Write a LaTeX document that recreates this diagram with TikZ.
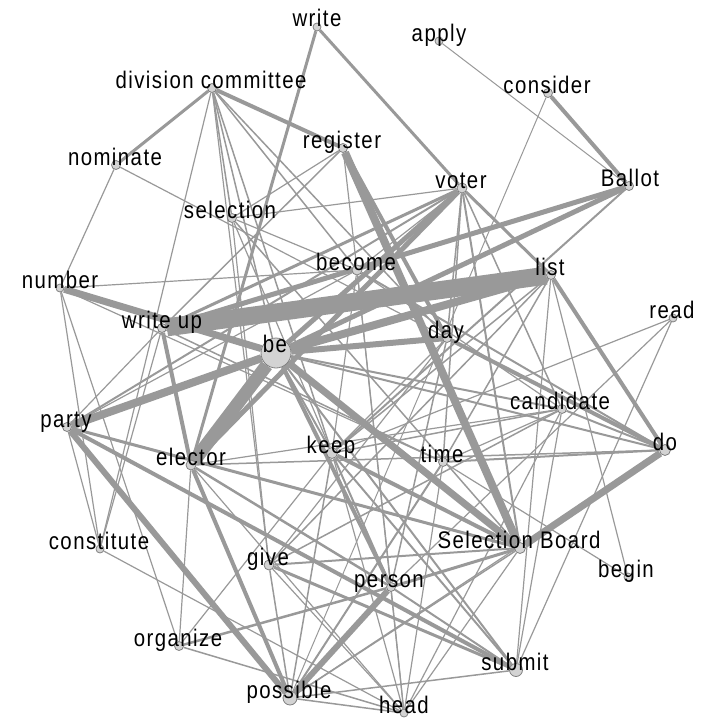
\documentclass[tikz,border=0pt]{standalone}
\usepackage{fontspec}
\setmainfont{Liberation Sans}[FakeStretch=0.85,LetterSpace=6]
\usetikzlibrary{backgrounds}
\definecolor{edgegray}{RGB}{153,153,153}
\definecolor{nodefill}{RGB}{211,211,211}
\definecolor{nodeline}{RGB}{128,128,128}
\tikzset{
  vtx/.style={circle, fill=nodefill, draw=nodeline, line width=0.8pt, inner sep=0pt, minimum size=#1},
  vtx/.default=9pt,
  lbl/.style={anchor=base, inner sep=0pt, font=\fontsize{24}{28}\selectfont, text=black},
  edge/.style={draw=edgegray, line cap=butt}
}
\begin{document}
\begin{tikzpicture}[x=1pt,y=-1pt]
\useasboundingbox (0,0) rectangle (704,720);
% vertices
\node[vtx=8pt] (write) at (317,27) {};
\node[vtx=8pt] (apply) at (439,41) {};
\node[vtx] (dc) at (212,88) {};
\node[vtx] (consider) at (548,93) {};
\node[vtx] (nominate) at (116,165) {};
\node[vtx] (register) at (343,148) {};
\node[vtx=10pt] (voter) at (462,188) {};
\node[vtx] (Ballot) at (629,186) {};
\node[vtx] (selection) at (232,218) {};
\node[vtx=10pt] (become) at (357,270) {};
\node[vtx] (list) at (551,275) {};
\node[vtx=8pt] (number) at (60,288) {};
\node[vtx] (writeup) at (162,328) {};
\node[vtx=8pt] (read) at (673,318) {};
\node[vtx=30pt] (be) at (276,353) {};
\node[vtx] (day) at (447,338) {};
\node[vtx] (candidate) at (562,409) {};
\node[vtx] (party) at (67,427) {};
\node[vtx=11pt] (do) at (665,450) {};
\node[vtx=10pt] (elector) at (191,465) {};
\node[vtx=11pt] (keep) at (332,453) {};
\node[vtx] (time) at (443,462) {};
\node[vtx=8pt] (constitute) at (100,549) {};
\node[vtx=11pt] (SB) at (520,548) {};
\node[vtx=10pt] (give) at (269,565) {};
\node[vtx=8pt] (begin) at (628,577) {};
\node[vtx] (person) at (391,587) {};
\node[vtx] (organize) at (179,646) {};
\node[vtx=13pt] (submit) at (516,670) {};
\node[vtx=14pt] (possible) at (290,698) {};
\node[vtx=8pt] (head) at (404,713) {};
% edges
\begin{scope}[on background layer]
\foreach \a/\b/\w in {
 writeup/list/18, be/elector/13, be/list/8, party/be/8, number/be/7, be/SB/7,
 register/SB/8, SB/do/7, be/day/6, party/possible/6, possible/person/6,
 be/voter/5, be/Ballot/5, writeup/Ballot/5, voter/elector/5,
 consider/Ballot/4, dc/register/4, party/submit/4, be/person/4,
 writeup/elector/4, elector/possible/4, day/do/4, list/do/4, register/day/4,
 dc/nominate/3, write/voter/3, write/elector/3, voter/writeup/3, voter/list/3,
 party/SB/3, elector/person/2.5, keep/SB/4, give/submit/3, person/SB/3,
 organize/person/2.5, voter/party/2,
 apply/Ballot/1, consider/possible/1,
 dc/constitute/1.2, dc/day/1.5, dc/selection/1.5, dc/be/1.5, dc/keep/1.5,
 dc/give/1.2, dc/become/1.5,
 nominate/number/1.2, nominate/day/1.2,
 register/selection/1.2, register/writeup/1.5, register/become/1.2,
 selection/give/1.2, selection/voter/1.2, selection/SB/1.5, selection/keep/1.2,
 selection/become/1.2,
 number/become/1.2, number/constitute/1.2, number/organize/1.2, number/time/1.2,
 party/constitute/1.2, party/writeup/1.2, party/become/1.2,
 constitute/writeup/1.2, constitute/head/1.2,
 organize/elector/1.2, organize/keep/1.2, organize/head/1.5,
 elector/do/1.5, elector/head/1.2,
 give/SB/2, give/candidate/1.5, give/possible/1.5, give/head/1.2, give/list/1.5,
 keep/submit/2, keep/person/2, keep/head/1.2, keep/possible/1.5, keep/candidate/1.5,
 Ballot/keep/2,
 read/keep/1.2, read/submit/1.2, read/person/1.2,
 time/candidate/1.2, time/do/2, time/possible/2, time/head/1.2, time/begin/1.2,
 time/voter/1.5, time/writeup/1.5,
 candidate/submit/1.2, candidate/do/2, candidate/be/2, candidate/head/1.2,
 candidate/voter/1.5, candidate/elector/1.2,
 person/head/1.2, person/submit/2,
 possible/head/1.5, possible/submit/1.5, possible/SB/1.5, possible/do/1.2,
 SB/head/1.2, SB/voter/2,
 list/submit/1.2, list/begin/1.2, list/time/1.5, list/keep/1.5,
 become/do/2, become/keep/1.2, become/candidate/1.2, become/person/1.2, become/head/1.2,
 voter/day/1.5, voter/become/1.2,
 day/keep/1.2, day/give/1.2, day/person/1.5,
 be/do/2, be/keep/2, be/submit/2}
 \draw[edge, line width=\w pt] (\a) -- (\b);
\end{scope}
% labels
\node[lbl] (write-l) at (317,27) {write};
\node[lbl] (apply-l) at (439,41) {apply};
\node[lbl] (dc-l) at (211,88) {division committee};
\node[lbl] (consider-l) at (547,93) {consider};
\node[lbl] (nominate-l) at (115,165) {nominate};
\node[lbl] (register-l) at (342,148) {register};
\node[lbl] (voter-l) at (461,188) {voter};
\node[lbl] (Ballot-l) at (630,186) {Ballot};
\node[lbl] (selection-l) at (230,218) {selection};
\node[lbl] (become-l) at (356,270) {become};
\node[lbl] (list-l) at (550,275) {list};
\node[lbl] (number-l) at (60,288) {number};
\node[lbl] (writeup-l) at (162,328) {write up};
\node[lbl] (read-l) at (672,318) {read};
\node[lbl] (be-l) at (275,352) {be};
\node[lbl] (day-l) at (446,338) {day};
\node[lbl] (candidate-l) at (560,409) {candidate};
\node[lbl] (party-l) at (66,427) {party};
\node[lbl] (do-l) at (665,450) {do};
\node[lbl] (elector-l) at (191,465) {elector};
\node[lbl] (keep-l) at (331,453) {keep};
\node[lbl] (time-l) at (442,462) {time};
\node[lbl] (constitute-l) at (99,549) {constitute};
\node[lbl] (SB-l) at (519,548) {Selection Board};
\node[lbl] (give-l) at (268,565) {give};
\node[lbl] (begin-l) at (626,577) {begin};
\node[lbl] (person-l) at (389,587) {person};
\node[lbl] (organize-l) at (178,646) {organize};
\node[lbl] (submit-l) at (515,670) {submit};
\node[lbl] (possible-l) at (289,698) {possible};
\node[lbl] (head-l) at (404,713) {head};
\end{tikzpicture}
\end{document}
